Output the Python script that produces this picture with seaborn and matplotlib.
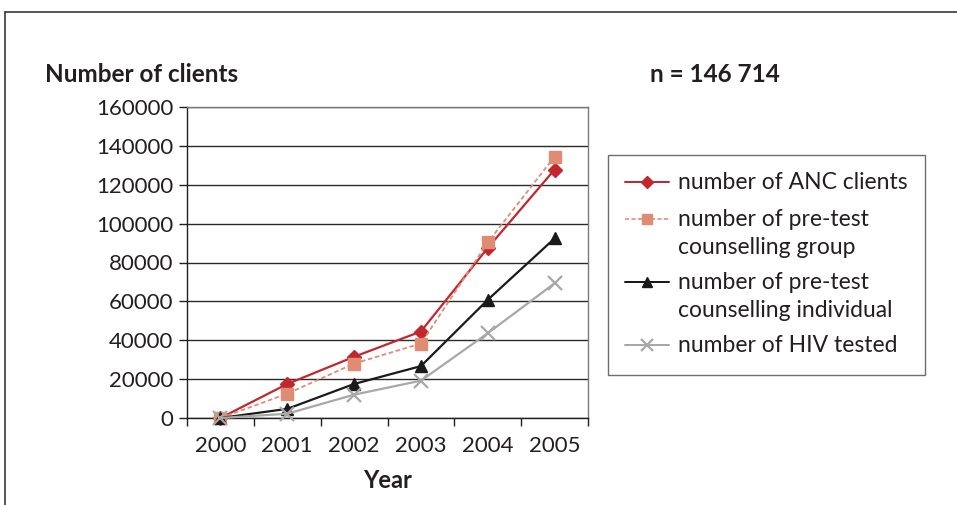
import matplotlib
matplotlib.use("Agg")
import matplotlib.pyplot as plt
import seaborn as sns
import pandas as pd
from matplotlib.lines import Line2D

# Data
years = ["2000", "2001", "2002", "2003", "2004", "2005"]
anc_clients = [0, 17500, 31500, 44500, 87500, 127800]
pretest_group = [0, 12500, 28000, 38300, 90300, 134500]
pretest_individual = [0, 4700, 17500, 26700, 60800, 92400]
hiv_tested = [0, 2200, 12000, 19200, 43600, 69300]
y_ticks = [0, 20000, 40000, 60000, 80000, 100000, 120000, 140000, 160000]

series_names = [
    "number of ANC clients",
    "number of pre-test\ncounselling group",
    "number of pre-test\ncounselling individual",
    "number of HIV tested",
]
series_values = [anc_clients, pretest_group, pretest_individual, hiv_tested]

sns.set_theme(style="white")
plt.rcParams["font.family"] = ["Lato", "DejaVu Sans"]

styles = [
    dict(color="#c1272d", marker="D", linestyle="-", markersize=7, linewidth=1.6,
         markeredgecolor="#c1272d"),
    dict(color="#e08c74", marker="s", linestyle=(0, (2.5, 1.5)), markersize=8, linewidth=1.3,
         markeredgecolor="#e08c74"),
    dict(color="#1a1a1a", marker="^", linestyle="-", markersize=9, linewidth=1.6,
         markeredgecolor="#1a1a1a"),
    dict(color="#a8a8a8", marker="x", linestyle="-", markersize=10, linewidth=1.6,
         markeredgewidth=1.6, markeredgecolor="#a8a8a8"),
]

fig = plt.figure(figsize=(9.57, 5.05), dpi=100)
ax = fig.add_axes([187 / 957, 1 - 418 / 505, (588 - 187) / 957, (418 - 107) / 505])

rows = []
for name, vals in zip(series_names, series_values):
    for i, v in enumerate(vals):
        rows.append({"series": name, "pos": i, "value": v})
df = pd.DataFrame(rows)

handles = []
for name, st in zip(series_names, styles):
    sub = df[df["series"] == name]
    sns.lineplot(data=sub, x="pos", y="value", ax=ax, color=st["color"],
                 marker=st["marker"], linestyle=st["linestyle"],
                 markersize=st["markersize"], linewidth=st["linewidth"],
                 markeredgecolor=st["markeredgecolor"],
                 markeredgewidth=st.get("markeredgewidth", 1.0),
                 legend=False, clip_on=False, zorder=3)
    handles.append(Line2D([], [], color=st["color"], marker=st["marker"],
                          linestyle=st["linestyle"], linewidth=st["linewidth"] * 0.9,
                          markersize=st["markersize"] * 0.85,
                          markeredgecolor=st["markeredgecolor"],
                          markeredgewidth=st.get("markeredgewidth", 1.0)))

ax.set_xlim(-0.5, 5.5)
ax.set_ylim(0, 160000)
ax.set_yticks(y_ticks)
ax.set_yticklabels([str(t) for t in y_ticks])
ax.set_xticks(range(len(years)))
ax.set_xticklabels(years)
ax.set_xticks([i - 0.5 for i in range(len(years) + 1)], minor=True)
ax.tick_params(axis="x", which="major", length=0, pad=13, labelsize=16, colors="#231f20")
ax.tick_params(axis="x", which="minor", length=6, width=1, color="#231f20", direction="out")
ax.tick_params(axis="y", which="major", length=6, width=1, color="#231f20", direction="out",
               pad=4, labelsize=16, labelcolor="#231f20")
ax.tick_params(bottom=True, left=True, which="both")

ax.yaxis.grid(True, color="#2a2a2a", linewidth=1)
ax.xaxis.grid(False)
ax.set_axisbelow(True)
for side, sp in ax.spines.items():
    sp.set_visible(True)
    sp.set_linewidth(1)
    sp.set_color("#231f20" if side in ("left", "bottom") else "#7a7a7a")

ax.set_xlabel("Year", fontsize=17, fontweight="bold", color="#231f20", labelpad=9)
ax.set_ylabel("")

fig.text(45 / 957, 1 - 75 / 505, "Number of clients", fontsize=17.5, fontweight="bold",
         color="#231f20", ha="left", va="center")
fig.text(650 / 957, 1 - 75 / 505, "n = 146 714", fontsize=17.5, fontweight="bold",
         color="#231f20", ha="left", va="center")

leg = fig.legend(handles, series_names, loc="upper left",
                 bbox_to_anchor=(608 / 957, 1 - 155 / 505), bbox_transform=fig.transFigure,
                 fontsize=16.5, frameon=True, fancybox=False, handlelength=1.9,
                 handleheight=1.15, handletextpad=0.4, labelspacing=0.62, borderpad=0.75,
                 borderaxespad=0)
leg.get_frame().set_edgecolor("#4a4a4a")
leg.get_frame().set_linewidth(1)
for t in leg.get_texts():
    t.set_color("#231f20")
    t.set_linespacing(1.4)

# Put each legend key beside the first line of its (possibly two-line) label
for column in leg._legend_handle_box.get_children():
    for row in column.get_children():
        row.align = "top"

# Outer frame: top rule and left rule
fig.add_artist(Line2D([5 / 957, 1.0], [1 - 12 / 505, 1 - 12 / 505], transform=fig.transFigure,
                      color="#3a3a3a", linewidth=1.2))
fig.add_artist(Line2D([5 / 957, 5 / 957], [1 - 12 / 505, 0.0], transform=fig.transFigure,
                      color="#3a3a3a", linewidth=1.2))

fig.savefig("out.png", dpi=100, facecolor="white")
